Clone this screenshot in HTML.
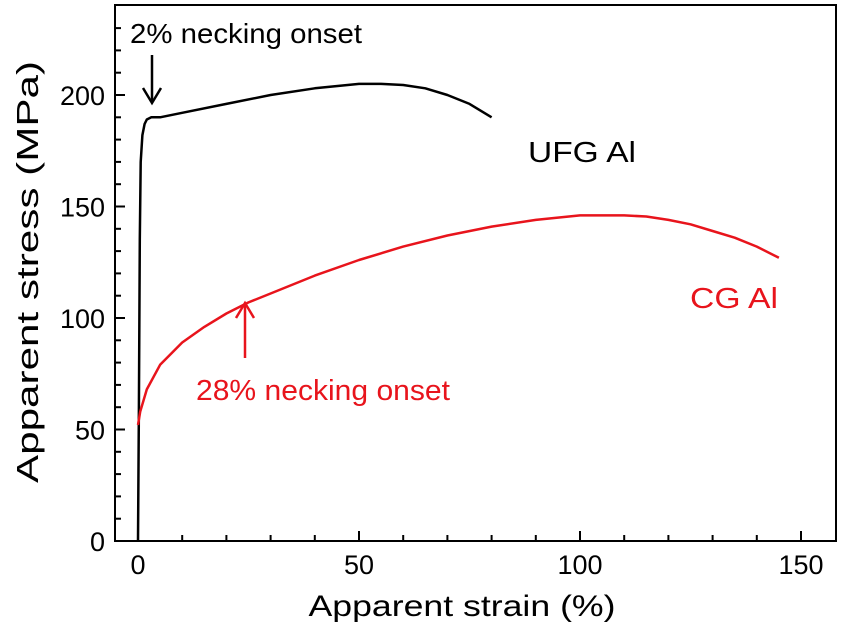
<!DOCTYPE html>
<html><head><meta charset="utf-8"><style>
body{margin:0;background:#fff}
svg text{font-family:"Liberation Sans",Arial,sans-serif}
</style></head><body>
<svg id="chart" width="850" height="627" viewBox="0 0 850 627" xmlns="http://www.w3.org/2000/svg">
<g id="axes"></g>
<g id="series"></g>
<text x="0" y="0" transform="translate(38,272) rotate(-90)" font-size="31" text-anchor="middle" textLength="422" lengthAdjust="spacingAndGlyphs">Apparent stress (MPa)</text>
<text x="462" y="616" font-size="30" text-anchor="middle" textLength="307" lengthAdjust="spacingAndGlyphs">Apparent strain (%)</text>
<text x="130" y="43" font-size="28" fill="#000" textLength="232" lengthAdjust="spacingAndGlyphs">2% necking onset</text>
<g stroke="#000" stroke-width="2.5" fill="none"><line x1="152" y1="55" x2="152" y2="102"/><polyline points="143,88 152,103 161,88"/></g>
<text x="196" y="400" font-size="29" fill="#e8141c" textLength="254" lengthAdjust="spacingAndGlyphs">28% necking onset</text>
<g stroke="#e8141c" stroke-width="2.5" fill="none"><line x1="245" y1="358" x2="245" y2="304"/><polyline points="236,318 245,303 254,318"/></g>
<text x="528" y="162" font-size="29" fill="#000" textLength="108" lengthAdjust="spacingAndGlyphs">UFG Al</text>
<text x="690" y="308" font-size="29" fill="#e8141c" textLength="88" lengthAdjust="spacingAndGlyphs">CG Al</text>
</svg>
<script>
const xTicks=[0,50,100,150];
const yTicks=[0,50,100,150,200];
const ufgStrain=[0,0.2,0.4,0.6,1,1.5,2,3,5,10,20,30,40,50,55,60,65,70,75,80];
const ufgStress=[0,60,135,170,182,187,189,190,190,192,196,200,203,205,205,204.5,203,200,196,190];
const cgStrain=[0,0.5,2,5,10,15,20,25,30,40,50,60,70,80,90,100,110,115,120,125,130,135,140,145];
const cgStress=[52,58,68,79,89,96,102,107,111,119,126,132,137,141,144,146,146,145.5,144,142,139,136,132,127];
const X0=138,XS=4.42,Y0=541,YS=2.23,L=115,R=836,T=5,B=541;
const sx=v=>X0+v*XS, sy=v=>Y0-v*YS;
const NS="http://www.w3.org/2000/svg";
function mk(tag,attrs,parent){const e=document.createElementNS(NS,tag);for(const k in attrs)e.setAttribute(k,attrs[k]);parent.appendChild(e);return e;}
const ax=document.getElementById('axes');
const frame=mk('rect',{x:L,y:T,width:R-L,height:B-T,fill:'none',stroke:'#000','stroke-width':2},ax);


for(let v=0;v<=150;v+=10){const big=v%50===0;const t=mk('line',{x1:sx(v),x2:sx(v),y1:B,y2:B-(big?10:6),stroke:'#000','stroke-width':2},ax);

}
for(let v=0;v<=230;v+=10){const big=v%50===0;const t=mk('line',{x1:L,x2:L+(big?10:6),y1:sy(v),y2:sy(v),stroke:'#000','stroke-width':2},ax);

}
xTicks.forEach(v=>{const t=mk('text',{x:sx(v),y:574,'font-size':27,'text-anchor':'middle'},ax);t.textContent=v;

});
yTicks.forEach(v=>{const t=mk('text',{x:105,y:sy(v)+10,'font-size':27,'text-anchor':'end'},ax);t.textContent=v;

});
const sg=document.getElementById('series');
function path(xs,ys){return xs.map((x,i)=>(i?'L':'M')+sx(x).toFixed(1)+','+sy(ys[i]).toFixed(1)).join(' ');}
const u=mk('path',{d:path(ufgStrain,ufgStress),fill:'none',stroke:'#000','stroke-width':2.5,'stroke-linejoin':'round'},sg);


const c=mk('path',{d:path(cgStrain,cgStress),fill:'none',stroke:'#e8141c','stroke-width':2.5,'stroke-linejoin':'round'},sg);


</script>
</body></html>
